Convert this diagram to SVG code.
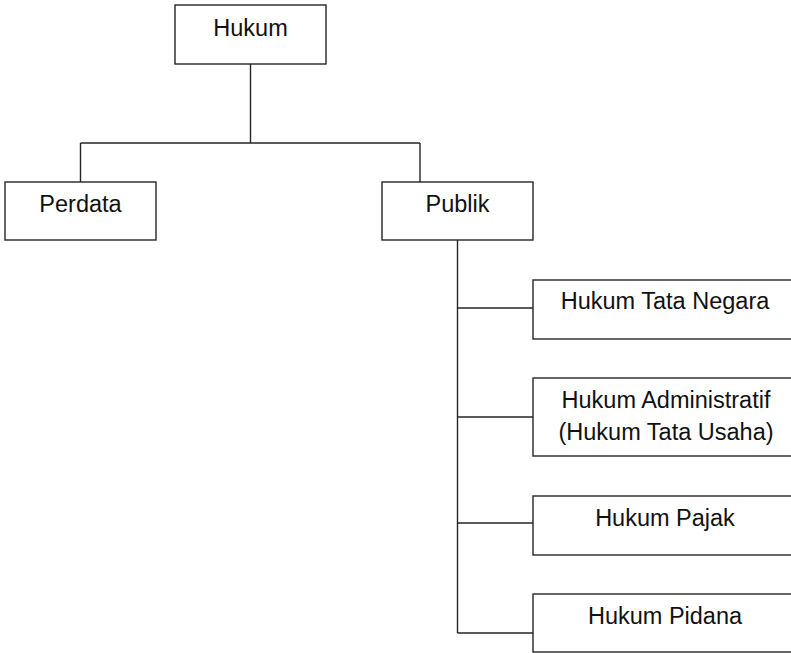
<svg xmlns="http://www.w3.org/2000/svg" width="791" height="653" viewBox="0 0 791 653">
<style>
.box{fill:#fff;stroke:#262626;stroke-width:1.4}
.ln{fill:none;stroke:#262626;stroke-width:1.4}
text{font-family:"Liberation Sans",Arial,sans-serif;font-size:23.5px;fill:#111;text-anchor:middle}
</style>
<rect width="791" height="653" fill="#fff"/>
<g id="connectors">
<path class="ln" d="M250.5 64V143M80.5 143H420M80.5 143V182M420 143V182"/>
<path class="ln" d="M457.5 240V633M457.5 308H533M457.5 417H533M457.5 523H533M457.5 633H533"/>
</g>
<g id="hukum"><rect class="box" x="175" y="5" width="151" height="59"/><text x="250.5" y="36">Hukum</text></g>
<g id="perdata"><rect class="box" x="5" y="182" width="151" height="58"/><text x="80.5" y="212">Perdata</text></g>
<g id="publik"><rect class="box" x="382" y="182" width="151" height="58"/><text x="457.5" y="212">Publik</text></g>
<g id="tata-negara"><rect class="box" x="533" y="280" width="264" height="59"/><text x="665" y="309">Hukum Tata Negara</text></g>
<g id="administratif"><rect class="box" x="533" y="378" width="264" height="78"/><text x="666" y="408">Hukum Administratif</text><text x="666" y="440">(Hukum Tata Usaha)</text></g>
<g id="pajak"><rect class="box" x="533" y="496" width="264" height="59"/><text x="665" y="526">Hukum Pajak</text></g>
<g id="pidana"><rect class="box" x="533" y="594" width="264" height="58"/><text x="665" y="624">Hukum Pidana</text></g>
</svg>
